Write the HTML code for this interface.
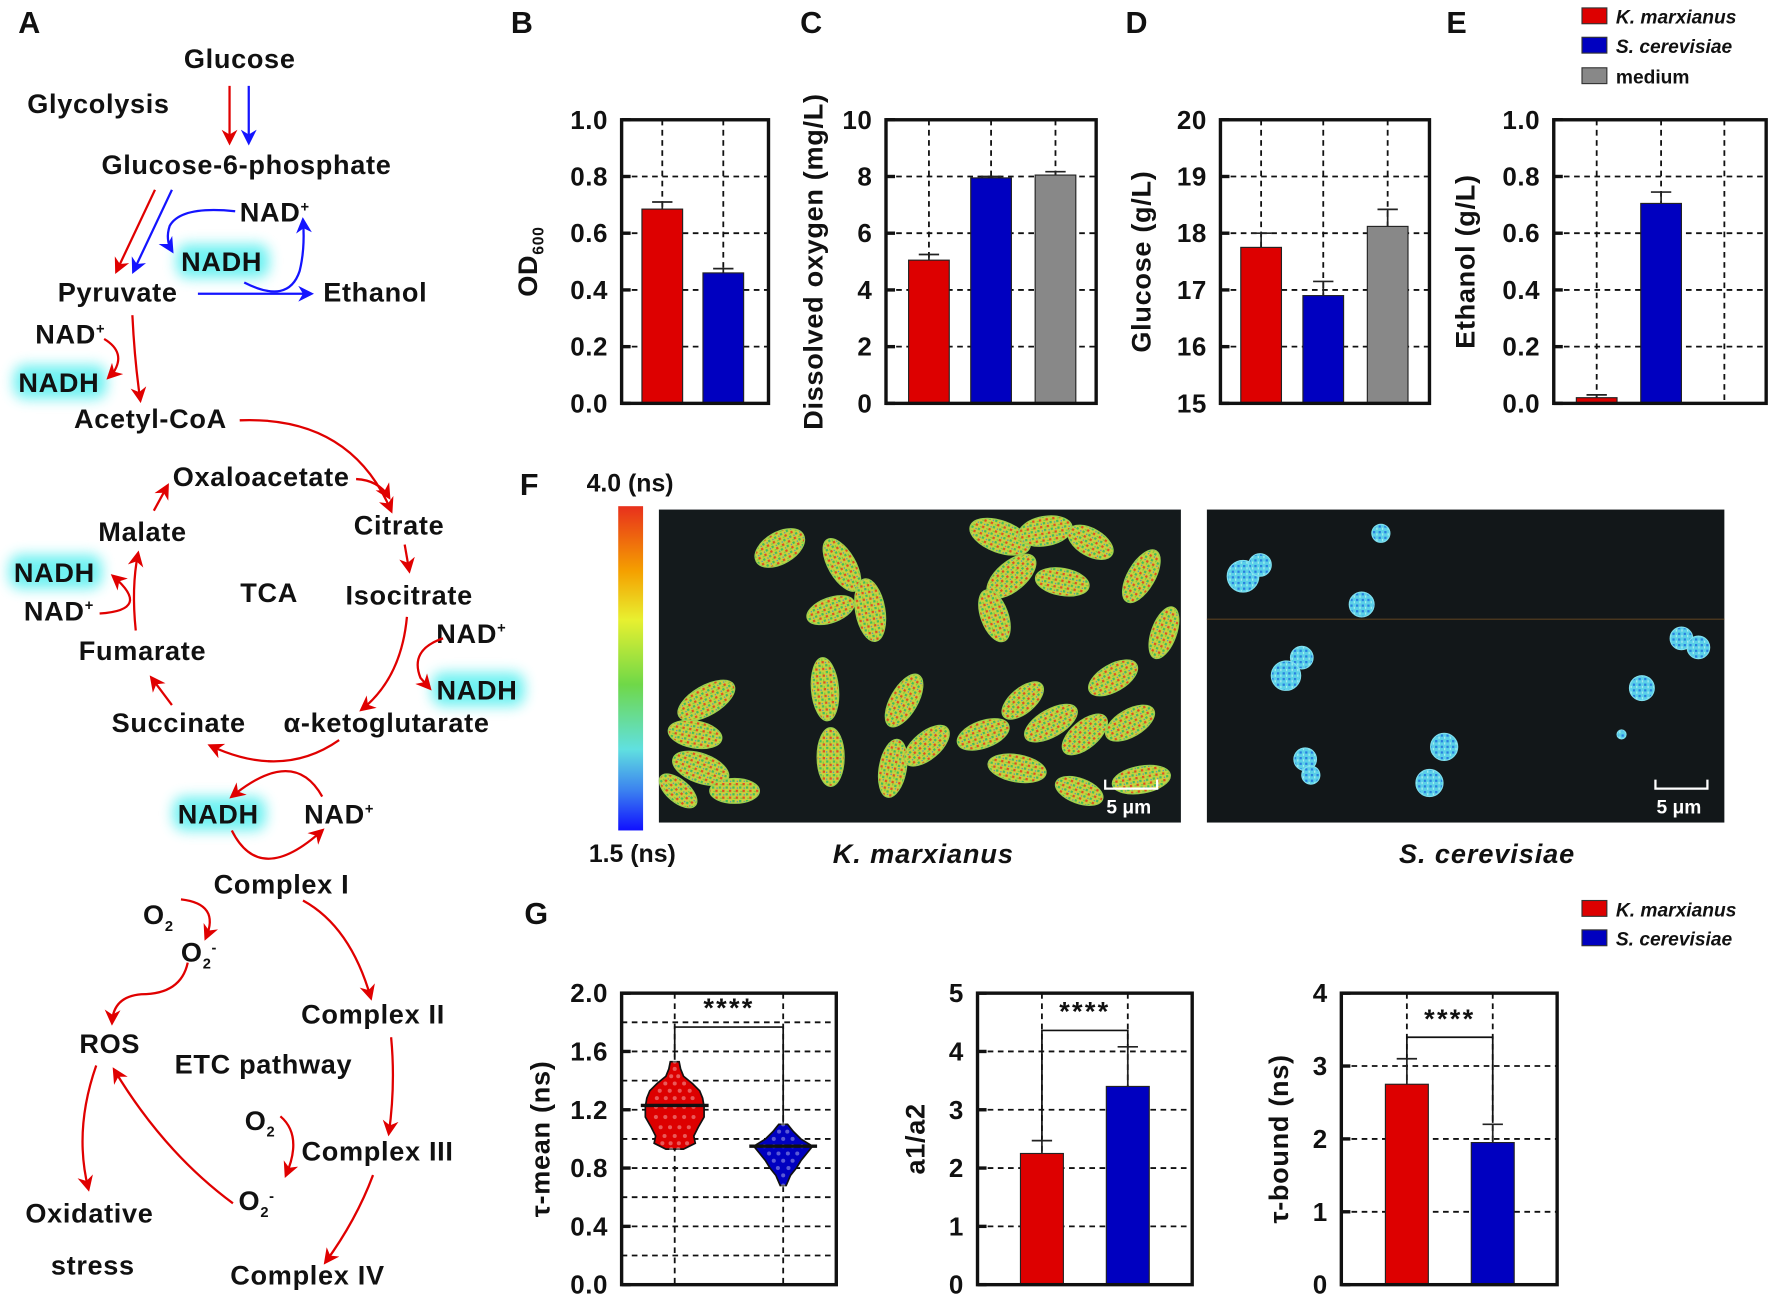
<!DOCTYPE html>
<html><head><meta charset="utf-8">
<style>
html,body{margin:0;padding:0;background:#fff;width:1772px;height:1305px;overflow:hidden}
svg{display:block}
text{font-family:"Liberation Sans",Arial,sans-serif;font-weight:bold;fill:#111}
.nadh{filter:url(#glow)}
</style></head><body>
<svg id="root" width="1772" height="1305" viewBox="0 0 1568 1155" xmlns="http://www.w3.org/2000/svg">
<defs>
<marker id="ar" viewBox="0 0 10 10" refX="8" refY="5" markerWidth="7" markerHeight="7" orient="auto-start-reverse"><path d="M0,0 L10,5 L0,10 L3,5 z" fill="#e00000"/></marker>
<marker id="ab" viewBox="0 0 10 10" refX="8" refY="5" markerWidth="7" markerHeight="7" orient="auto-start-reverse"><path d="M0,0 L10,5 L0,10 L3,5 z" fill="#1414ff"/></marker>
<filter id="glow" x="-30%" y="-60%" width="160%" height="220%"><feGaussianBlur stdDeviation="6"/></filter>
<linearGradient id="cbar" x1="0" y1="0" x2="0" y2="1">
<stop offset="0" stop-color="#e8301c"/><stop offset="0.2" stop-color="#f5a000"/><stop offset="0.35" stop-color="#e8f030"/><stop offset="0.55" stop-color="#6fd848"/><stop offset="0.75" stop-color="#60e0e0"/><stop offset="0.88" stop-color="#3a7ff0"/><stop offset="1" stop-color="#1010ff"/></linearGradient>
<pattern id="speck" width="6" height="6" patternUnits="userSpaceOnUse"><rect width="6" height="6" fill="#c8d040"/><rect x="0" y="0" width="2" height="2" fill="#3fbf5a"/><rect x="3" y="3" width="2" height="2" fill="#e05020"/><rect x="4" y="1" width="1" height="1" fill="#3080e0"/><rect x="1" y="4" width="2" height="1" fill="#6fd040"/></pattern>
<pattern id="speck2" width="5" height="5" patternUnits="userSpaceOnUse"><rect width="5" height="5" fill="#5ad0e8"/><rect x="0" y="0" width="2" height="2" fill="#2a80e0"/><rect x="3" y="2" width="1" height="2" fill="#b0f0f0"/></pattern>
</defs>

<g font-size="27">
<text x="16" y="29">A</text>
<text x="452" y="29">B</text>
<text x="708" y="29">C</text>
<text x="996" y="29">D</text>
<text x="1280" y="29">E</text>
<text x="460" y="438">F</text>
<text x="464" y="818">G</text>
</g>

<g id="pathway" font-size="24" letter-spacing="0.6">
<g fill="#5ff0f0" opacity="0.9">
<rect class="nadh" x="156" y="216" width="82" height="30" rx="10"/>
<rect class="nadh" x="12" y="323" width="82" height="30" rx="10"/>
<rect class="nadh" x="8" y="491" width="82" height="30" rx="10"/>
<rect class="nadh" x="382" y="595" width="82" height="30" rx="10"/>
<rect class="nadh" x="153" y="705" width="82" height="30" rx="10"/>
</g>
<g text-anchor="middle">
<text x="212" y="60">Glucose</text>
<text x="87" y="100">Glycolysis</text>
<text x="218" y="154">Glucose-6-phosphate</text>
<text x="243" y="196">NAD<tspan font-size="13" dy="-9">+</tspan></text>
<text x="196" y="240">NADH</text>
<text x="104" y="267">Pyruvate</text>
<text x="332" y="267">Ethanol</text>
<text x="62" y="304">NAD<tspan font-size="13" dy="-9">+</tspan></text>
<text x="52" y="347">NADH</text>
<text x="133" y="379">Acetyl-CoA</text>
<text x="231" y="430">Oxaloacetate</text>
<text x="353" y="473">Citrate</text>
<text x="126" y="479">Malate</text>
<text x="238" y="533">TCA</text>
<text x="362" y="535">Isocitrate</text>
<text x="48" y="515">NADH</text>
<text x="52" y="549">NAD<tspan font-size="13" dy="-9">+</tspan></text>
<text x="417" y="569">NAD<tspan font-size="13" dy="-9">+</tspan></text>
<text x="126" y="584">Fumarate</text>
<text x="422" y="619">NADH</text>
<text x="158" y="648">Succinate</text>
<text x="342" y="648">α-ketoglutarate</text>
<text x="193" y="729">NADH</text>
<text x="300" y="729">NAD<tspan font-size="13" dy="-9">+</tspan></text>
<text x="249" y="791">Complex I</text>
<text x="140" y="818">O<tspan font-size="13" dy="6">2</tspan></text>
<text x="176" y="851">O<tspan font-size="13" dy="6">2</tspan><tspan font-size="13" dy="-14">-</tspan></text>
<text x="330" y="906">Complex II</text>
<text x="97" y="932">ROS</text>
<text x="233" y="950">ETC pathway</text>
<text x="230" y="1000">O<tspan font-size="13" dy="6">2</tspan></text>
<text x="334" y="1027">Complex III</text>
<text x="227" y="1071">O<tspan font-size="13" dy="6">2</tspan><tspan font-size="13" dy="-14">-</tspan></text>
<text x="79" y="1082">Oxidative</text>
<text x="82" y="1128">stress</text>
<text x="272" y="1137">Complex IV</text>
</g>
<g fill="none" stroke="#e00000" stroke-width="2" marker-end="url(#ar)">
<path d="M203,76 L203,126"/>
<path d="M137,168 L103,240"/>
<path d="M117,279 Q119,320 124,354"/>
<path d="M92,300 Q112,312 100,330 L96,334"/>
<path d="M212,372 Q310,368 346,452"/>
<path d="M315,424 Q335,425 344,440"/>
<path d="M358,482 L362,505"/>
<path d="M360,546 Q355,600 320,628"/>
<path d="M392,565 Q362,575 372,600 L380,609"/>
<path d="M300,655 Q250,690 186,660"/>
<path d="M152,624 L134,600"/>
<path d="M120,558 Q116,520 122,490"/>
<path d="M88,543 Q135,540 100,510"/>
<path d="M136,452 L148,430"/>
<path d="M285,705 Q260,660 205,705"/>
<path d="M205,735 Q230,785 285,735"/>
<path d="M268,797 Q310,820 328,883"/>
<path d="M160,796 Q195,800 182,830"/>
<path d="M166,852 Q160,880 125,880 Q100,882 99,905"/>
<path d="M346,918 Q350,960 344,1003"/>
<path d="M248,988 Q268,1005 253,1040"/>
<path d="M206,1065 Q145,1020 101,947"/>
<path d="M85,943 Q65,1000 78,1052"/>
<path d="M330,1040 Q315,1080 288,1117"/>
</g>
<g fill="none" stroke="#1414ff" stroke-width="2" marker-end="url(#ab)">
<path d="M220,76 L220,126"/>
<path d="M152,168 L118,240"/>
<path d="M175,260 L275,260"/>
<path d="M208,187 Q160,182 150,200 Q146,212 152,222"/>
<path d="M216,250 Q255,270 265,240 Q270,220 268,195"/>
</g>
</g>

<g id="legend-top" font-size="17">
<g><rect x="1400" y="7" width="22" height="14" fill="#dd0000" stroke="#333"/><text x="1430" y="21" font-style="italic">K. marxianus</text></g>
<g><rect x="1400" y="33" width="22" height="14" fill="#0000c0" stroke="#333"/><text x="1430" y="47" font-style="italic">S. cerevisiae</text></g>
<g><rect x="1400" y="60" width="22" height="14" fill="#888" stroke="#333"/><text x="1430" y="74">medium</text></g>
</g>
<g id="legend-g" font-size="17">
<g><rect x="1400" y="797" width="22" height="14" fill="#dd0000" stroke="#333"/><text x="1430" y="811" font-style="italic">K. marxianus</text></g>
<g><rect x="1400" y="823" width="22" height="14" fill="#0000c0" stroke="#333"/><text x="1430" y="837" font-style="italic">S. cerevisiae</text></g>
</g>

<g id="panel-f">
<rect x="547" y="448" width="22" height="287" fill="url(#cbar)"/>
<text x="519" y="435" font-size="22">4.0 (ns)</text>
<text x="521" y="763" font-size="22">1.5 (ns)</text>
<g>
<rect x="583" y="451" width="462" height="277" fill="#141a1c"/>
<g id="cells-left" fill="url(#speck)" stroke="#9ad050" stroke-width="1"></g>
<path d="M978,690 L978,698 L1024,698 L1024,690" fill="none" stroke="#fff" stroke-width="2"/>
<text x="979" y="720" font-size="17" style="fill:#fff">5 μm</text>
</g>
<g>
<rect x="1068" y="451" width="458" height="277" fill="#121719"/>
<line x1="1068" y1="548" x2="1526" y2="548" stroke="#5a4020" stroke-width="1"/>
<g id="cells-right" fill="url(#speck2)" stroke="#80e0f0" stroke-width="1"></g>
<path d="M1465,690 L1465,698 L1511,698 L1511,690" fill="none" stroke="#fff" stroke-width="2"/>
<text x="1466" y="720" font-size="17" style="fill:#fff">5 μm</text>
</g>
<text x="817" y="764" font-size="24" letter-spacing="0.8" font-style="italic" text-anchor="middle">K. marxianus</text>
<text x="1316" y="764" font-size="24" letter-spacing="0.8" font-style="italic" text-anchor="middle">S. cerevisiae</text>
</g>

<g id="charts"></g>
</svg>

<script>
// ---- Chart data ----
const odValues = [0.685, 0.46];
const odErrors = [0.025, 0.015];
const odTicks = ["0.0","0.2","0.4","0.6","0.8","1.0"];
const doValues = [5.05, 7.95, 8.05];
const doErrors = [0.2, 0.05, 0.12];
const doTicks = ["0","2","4","6","8","10"];
const gluValues = [17.75, 16.9, 18.12];
const gluErrors = [0.25, 0.25, 0.3];
const gluTicks = ["15","16","17","18","19","20"];
const ethValues = [0.02, 0.705];
const ethErrors = [0.01, 0.04];
const ethTicks = ["0.0","0.2","0.4","0.6","0.8","1.0"];
const ratioValues = [2.25, 3.4];
const ratioErrors = [0.22, 0.68];
const ratioTicks = ["0","1","2","3","4","5"];
const tbValues = [2.75, 1.95];
const tbErrors = [0.35, 0.25];
const tbTicks = ["0","1","2","3","4"];
const tmTicks = ["0.0","0.4","0.8","1.2","1.6","2.0"];
const tmMedians = [1.23, 0.95];
const kmLevels = [0.93,0.97,1.02,1.08,1.15,1.22,1.28,1.33,1.38,1.43,1.48,1.53];
const kmDensity = [0.3,0.7,0.65,0.8,1.0,1.0,0.95,0.85,0.6,0.3,0.2,0.15];
const scLevels = [0.68,0.75,0.8,0.85,0.9,0.95,1.0,1.05,1.1];
const scDensity = [0.1,0.25,0.45,0.6,0.8,1.0,0.6,0.35,0.15];

const RED="#dd0000", BLUE="#0000c0", GRAY="#888888";
const NS="http://www.w3.org/2000/svg";
const charts=document.getElementById('charts');
function el(tag, attrs, parent){const e=document.createElementNS(NS,tag);for(const k in attrs)e.setAttribute(k,attrs[k]);(parent||charts).appendChild(e);return e;}

function axisChart(o){
  const g=el('g',{});
  
  
  const min=parseFloat(o.ticks[0]), max=parseFloat(o.ticks[o.ticks.length-1]);
  const y=v=>o.bottom-(v-min)/(max-min)*(o.bottom-o.top);
  const step=(max-min)/o.gridN;
  for(let i=1;i<o.gridN;i++){
    const l=el('line',{x1:o.left,x2:o.right,y1:y(min+i*step),y2:y(min+i*step),stroke:'#111','stroke-width':1.6,'stroke-dasharray':'5,4'},g);
    
    
  }
  o.vgrid.forEach(x=>{
    const l=el('line',{x1:x,x2:x,y1:o.top,y2:o.bottom,stroke:'#111','stroke-width':1.6,'stroke-dasharray':'5,4'},g);
    
    
  });
  o.ticks.forEach(t=>{
    const v=parseFloat(t);
    el('line',{x1:o.left,x2:o.left+8,y1:y(v),y2:y(v),stroke:'#111','stroke-width':3},g);
    const tx=el('text',{x:o.left-12,y:y(v)+8,'text-anchor':'end','font-size':23,'letter-spacing':0.5},g);
    tx.textContent=t;
    
    
  });
  (o.values||[]).forEach((v,i)=>{
    const cx=o.centers[i], w=o.barW;
    const r=el('rect',{x:cx-w/2,y:y(v),width:w,height:o.bottom-y(v),fill:o.colors[i],stroke:'#222','stroke-width':1},g);
    
    
    const e=o.errors[i];
    el('line',{x1:cx,x2:cx,y1:y(v),y2:y(v+e),stroke:'#222','stroke-width':1.5},g);
    el('line',{x1:cx-9,x2:cx+9,y1:y(v+e),y2:y(v+e),stroke:'#222','stroke-width':1.5},g);
  });
  el('rect',{x:o.left,y:o.top,width:o.right-o.left,height:o.bottom-o.top,fill:'none',stroke:'#111','stroke-width':3},g);
  const yt=el('text',{x:0,y:0,'text-anchor':'middle','font-size':24,'letter-spacing':0.6,transform:`translate(${o.titleX},${(o.top+o.bottom)/2}) rotate(-90)`},g);
  yt.innerHTML=o.title;
  
  
  if(o.sig){
    const [a,b,by,sy]=o.sig;
    el('path',{d:`M${a},${y(o.sigFrom[0])} L${a},${by} L${b},${by} L${b},${y(o.sigFrom[1])}`,fill:'none',stroke:'#111','stroke-width':1.5},g);
    const s=el('text',{x:(a+b)/2,y:sy,'text-anchor':'middle','font-size':24,'letter-spacing':2},g);
    s.textContent='****';
    
    
  }
  return {g,y};
}

axisChart({name:'od600-chart',left:550,right:680,top:106,bottom:357,ticks:odTicks,gridN:5,vgrid:[586,640],values:odValues,errors:odErrors,centers:[586,640],barW:36,colors:[RED,BLUE],cats:['kmarxianus','scerevisiae'],title:'OD<tspan font-size="14" dy="6">600</tspan>',titleX:475});
axisChart({name:'dissolved-oxygen-chart',left:784,right:970,top:106,bottom:357,ticks:doTicks,gridN:5,vgrid:[822,877,934],values:doValues,errors:doErrors,centers:[822,877,934],barW:36,colors:[RED,BLUE,GRAY],cats:['kmarxianus','scerevisiae','medium'],title:'Dissolved oxygen (mg/L)',titleX:728});
axisChart({name:'glucose-chart',left:1080,right:1265,top:106,bottom:357,ticks:gluTicks,gridN:5,vgrid:[1116,1171,1228],values:gluValues,errors:gluErrors,centers:[1116,1171,1228],barW:36,colors:[RED,BLUE,GRAY],cats:['kmarxianus','scerevisiae','medium'],title:'Glucose (g/L)',titleX:1018});
axisChart({name:'ethanol-chart',left:1375,right:1563,top:106,bottom:357,ticks:ethTicks,gridN:5,vgrid:[1413,1470,1526],values:ethValues,errors:ethErrors,centers:[1413,1470],barW:36,colors:[RED,BLUE],cats:['kmarxianus','scerevisiae'],title:'Ethanol (g/L)',titleX:1305});

const tm=axisChart({name:'tau-mean-chart',left:550,right:740,top:879,bottom:1137,ticks:tmTicks,gridN:10,vgrid:[597,693],title:'τ-mean (ns)',titleX:486,sig:[597,693,909,900],sigFrom:[1.56,1.1]});
function violin(levels,dens,cx,color,median,name){
  const maxW=26;
  let right=levels.map((l,i)=>`${cx+dens[i]*maxW},${tm.y(l)}`);
  let left=levels.map((l,i)=>`${cx-dens[i]*maxW},${tm.y(l)}`).reverse();
  const p=el('polygon',{points:right.concat(left).join(' '),fill:color,stroke:'#111','stroke-width':1.5},tm.g);
  
  
  levels.forEach((l,i)=>{
    const n=Math.max(1,Math.round(dens[i]*5));
    for(let k=0;k<n;k++){
      const dx=(k-(n-1)/2)*(dens[i]*maxW*2/Math.max(n,1))*0.8;
      el('circle',{cx:cx+dx,cy:tm.y(l),r:1.8,fill:'#fff',opacity:0.35},tm.g);
    }
  });
  el('line',{x1:cx-30,x2:cx+30,y1:tm.y(median),y2:tm.y(median),stroke:'#111','stroke-width':3},tm.g);
}
violin(kmLevels,kmDensity,597,RED,tmMedians[0],'violin-kmarxianus');
violin(scLevels,scDensity,693,BLUE,tmMedians[1],'violin-scerevisiae');

axisChart({name:'a1-a2-ratio-chart',left:865,right:1055,top:879,bottom:1137,ticks:ratioTicks,gridN:5,vgrid:[922,998],values:ratioValues,errors:ratioErrors,centers:[922,998],barW:38,colors:[RED,BLUE],cats:['kmarxianus','scerevisiae'],title:'a1/a2',titleX:818,sig:[922,998,912,903],sigFrom:[2.5,4.1]});
axisChart({name:'tau-bound-chart',left:1187,right:1378,top:879,bottom:1137,ticks:tbTicks,gridN:4,vgrid:[1245,1321],values:tbValues,errors:tbErrors,centers:[1245,1321],barW:38,colors:[RED,BLUE],cats:['kmarxianus','scerevisiae'],title:'τ-bound (ns)',titleX:1140,sig:[1245,1321,918,910],sigFrom:[3.12,2.22]});

const leftCells=[[690,485,24,14,-30],[745,500,26,12,60],[770,540,28,13,80],[735,540,22,11,-20],[885,475,28,14,20],[925,470,24,13,-10],[965,480,22,12,30],[895,510,26,13,-40],[940,515,24,12,10],[880,545,24,12,70],[1010,510,26,12,-60],[1030,560,24,11,-70],[985,600,24,12,-30],[625,620,28,13,-30],[615,650,24,12,10],[620,680,26,13,20],[650,700,22,11,0],[600,700,20,10,40],[730,610,28,12,85],[735,670,26,12,90],[800,620,26,12,-60],[790,680,26,12,-80],[820,660,24,12,-40],[870,650,24,12,-20],[900,680,26,12,10],[930,640,26,12,-30],[960,650,24,12,-40],[1000,640,24,12,-30],[1010,690,26,12,-10],[955,700,22,11,20],[905,620,22,11,-40]];
const lc=document.getElementById('cells-left');
leftCells.forEach(c=>{const e=el('ellipse',{cx:c[0],cy:c[1],rx:c[2],ry:c[3],transform:`rotate(${c[4]} ${c[0]} ${c[1]})`},lc);});
const rightCells=[[1100,510,14],[1115,500,10],[1222,472,8],[1205,535,11],[1152,582,10],[1138,598,13],[1155,672,10],[1160,686,8],[1278,661,12],[1265,693,12],[1453,609,11],[1488,565,10],[1503,573,10],[1435,650,4]];
const rc=document.getElementById('cells-right');
rightCells.forEach(c=>{const e=el('circle',{cx:c[0],cy:c[1],r:c[2]},rc);});
</script>
</body></html>
